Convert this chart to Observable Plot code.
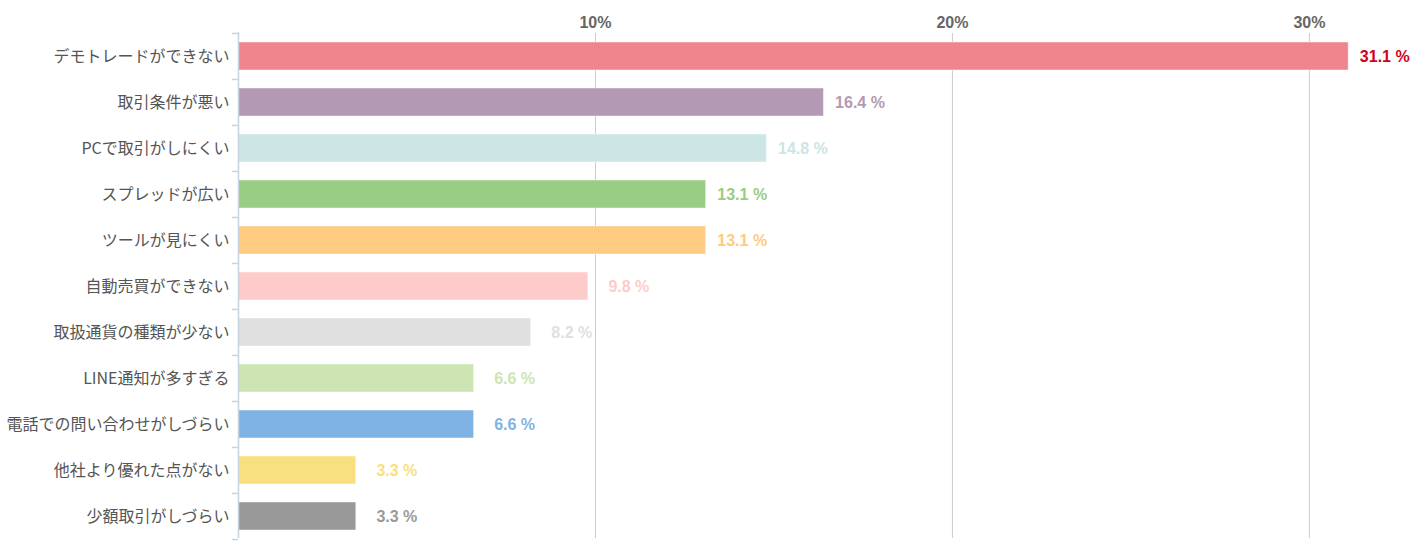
<!DOCTYPE html>
<html>
<head>
<meta charset="utf-8">
<script src="https://cdn.jsdelivr.net/npm/d3@7"></script>
<script src="https://cdn.jsdelivr.net/npm/@observablehq/plot@0.6"></script>
<style>
  html, body { margin: 0; padding: 0; background: #fff; }
  #chart svg { display: block; }
</style>
</head>
<body>
<div id="chart"></div>
<script>
const categories = [
  "デモトレードができない",
  "取引条件が悪い",
  "PCで取引がしにくい",
  "スプレッドが広い",
  "ツールが見にくい",
  "自動売買ができない",
  "取扱通貨の種類が少ない",
  "LINE通知が多すぎる",
  "電話での問い合わせがしづらい",
  "他社より優れた点がない",
  "少額取引がしづらい"
];
const values = [31.1, 16.4, 14.8, 13.1, 13.1, 9.8, 8.2, 6.6, 6.6, 3.3, 3.3];
const barColors = ["#ee858c", "#b399b3", "#cce5e5", "#99cc84", "#fecb80", "#fecbcb", "#e0e0e0", "#cce5b3", "#80b3e5", "#f8e080", "#999999"];
const labelColors = ["#d0021b", "#b399b3", "#cce5e5", "#99cc84", "#fecb80", "#fecbcb", "#e0e0e0", "#cce5b3", "#80b3e5", "#f8e080", "#999999"];
const xTicks = [10, 20, 30];

const data = categories.map((c, i) => ({cat: c, value: values[i], bar: barColors[i], label: labelColors[i]}));
const latin = "'Liberation Sans', Arial, Helvetica, sans-serif";
const cjk = "'Noto Sans CJK JP', 'Noto Sans', sans-serif";
const step = (539 - 32.5) / categories.length;

const chart = Plot.plot({
  width: 1426,
  height: 556,
  marginLeft: 238,
  marginRight: 10,
  marginTop: 40,
  marginBottom: 18,
  style: {fontFamily: latin, background: "#fff"},
  x: {domain: [0, 33], range: [238, 1416]},
  y: {domain: categories, range: [32.5, 539], paddingInner: 0.4, paddingOuter: 0.2},
  marks: [
    Plot.gridX(xTicks, {stroke: "#cccccc", strokeOpacity: 1, strokeWidth: 1}),
    Plot.axisX(xTicks, {
      anchor: "top",
      tickSize: 8,
      tickPadding: 5,
      stroke: "#cccccc",
      tickFormat: d => d + "%",
      fontSize: 16,
      fontWeight: "bold",
      fill: "#666666",
      label: null
    }),
    Plot.barX(data, {
      x: "value",
      y: "cat",
      fill: "bar",
      stroke: "white",
      strokeOpacity: 0.45,
      strokeWidth: 1
    }),
    Plot.ruleX([0], {stroke: "#c8d3e0", strokeWidth: 1.5, insetTop: -8}),
    Plot.ruleY(categories, {y: d => d, x1: 0, x2: 0, insetLeft: -6, dy: -step / 2, stroke: "#c8d3e0", strokeWidth: 1.5}),
    Plot.ruleY(categories.slice(-1), {y: d => d, x1: 0, x2: 0, insetLeft: -6, dy: step / 2, stroke: "#c8d3e0", strokeWidth: 1.5}),
    Plot.axisY({
      tickSize: 0,
      tickPadding: 9,
      fontSize: 16,
      fill: "#555555",
      fontFamily: cjk,
      label: null
    }),
    Plot.text(data, {
      x: "value",
      y: "cat",
      text: d => d.value.toFixed(1) + " %",
      textAnchor: "end",
      dx: 61,
      fill: "label",
      fontSize: 16,
      fontWeight: "bold"
    })
  ]
});
document.getElementById("chart").appendChild(chart);
</script>
</body>
</html>
